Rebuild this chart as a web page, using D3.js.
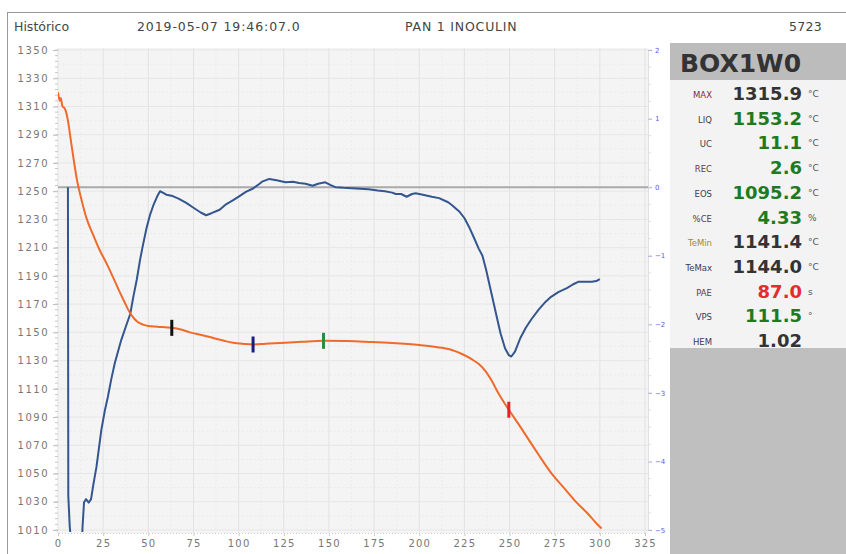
<!DOCTYPE html>
<html>
<head>
<meta charset="utf-8">
<script src="https://cdn.jsdelivr.net/npm/d3@7"></script>
<style>
  body { margin: 0; background: #fff; }
  svg { display: block; font-family: "DejaVu Sans", sans-serif; }
</style>
</head>
<body>
<div id="chart"></div>
<script>
// header line
const headerTexts = ["Histórico", "2019-05-07 19:46:07.0", "PAN 1 INOCULIN", "5723"];

// ticks
const timeTicks = d3.range(0, 326, 25);
const tempTicks = d3.range(1010, 1351, 20);
const rightTicks = [2, 1, 0, -1, -2, -3, -4, -5];

// cooling curve: [time s, temperature °C]
const coolingCurve = [
  [0, 1320], [1, 1314], [1.5, 1316], [2.5, 1310], [3.5, 1309], [4.5, 1306], [5.5, 1300],
  [7, 1287], [8.5, 1274], [10.5, 1258], [13, 1244], [16, 1230], [19.5, 1219], [23, 1208.5],
  [27, 1198.5], [30.5, 1189], [34, 1179], [37, 1171], [40, 1163.5], [42, 1160], [44, 1157.5],
  [47, 1155.5], [50, 1154.5], [55, 1154], [63, 1153.2], [68, 1152], [73, 1150], [80, 1148],
  [86, 1146], [92, 1144], [97, 1142.6], [103, 1141.8], [108, 1141.4], [115, 1142], [123, 1142.5],
  [135, 1143.3], [147, 1144], [160, 1143.8], [172, 1143.2], [185, 1142.4], [200, 1141],
  [210, 1139.5], [218, 1137.5], [224, 1134.5], [229, 1131], [233, 1127.5], [237, 1122],
  [240, 1116], [244, 1106.5], [249.6, 1095.2], [255, 1085], [260.6, 1074], [266, 1063.5],
  [273, 1050.5], [280, 1040], [286, 1031], [293, 1022], [299, 1013.5], [301, 1011]
];

// derivative curve (right axis): [time s, value]
const derivCurve = [
  [5.5, 0], [5.7, -4.5], [6.5, -4.95], [7.8, -5.3], [13, -5.3], [13.6, -4.95], [14.4, -4.6],
  [15.5, -4.55], [17, -4.6], [18.3, -4.55], [19.5, -4.35], [21.3, -4.08], [24, -3.54],
  [26, -3.25], [27.6, -3.06], [29.5, -2.8], [31.5, -2.56], [35, -2.23], [38, -2.0],
  [40, -1.85], [41.7, -1.6], [43.6, -1.35], [45.5, -1.05], [47, -0.85], [49, -0.6],
  [51, -0.4], [53, -0.25], [55, -0.13], [56.5, -0.06], [58, -0.08], [60, -0.11],
  [63.5, -0.13], [67, -0.17], [71, -0.23], [75, -0.3], [79, -0.37], [82, -0.41],
  [85, -0.38], [89.5, -0.33], [93, -0.25], [97, -0.19], [100.5, -0.13], [104, -0.07],
  [108, -0.02], [111.6, 0.05], [113, 0.08], [117, 0.12], [121, 0.1], [126, 0.07],
  [130, 0.08], [133.5, 0.06], [137, 0.05], [141, 0.02], [144, 0.05], [148, 0.07],
  [151, 0.03], [153.6, 0.0], [158, -0.01], [165, -0.02], [172, -0.03], [177, -0.05],
  [181, -0.06], [185, -0.08], [187, -0.1], [190, -0.1], [193, -0.14], [196, -0.1],
  [198, -0.09], [202, -0.11], [207, -0.14], [211, -0.16], [216, -0.22], [218, -0.26],
  [222, -0.35], [225, -0.45], [227.6, -0.58], [230, -0.72], [233, -0.9], [235, -1.0],
  [237, -1.2], [240, -1.55], [243, -1.9], [245, -2.13], [247.5, -2.35], [249.6, -2.45],
  [251, -2.47], [253, -2.4], [256, -2.2], [259, -2.05], [262, -1.93], [266, -1.79],
  [270, -1.67], [273, -1.6], [277, -1.53], [282, -1.47], [285, -1.42], [288, -1.38],
  [292, -1.38], [295.6, -1.38], [298, -1.37], [300, -1.34]
];

// characteristic points on the cooling curve
const markerTimes = [63, 108, 147, 249.6];
const markerTemps = [1153.2, 1141.4, 1144.0, 1095.2];
const markerColors = ["#111", "#1c1c80", "#2e8b3a", "#e8202a"];

// side panel
const panelTitle = "BOX1W0";
const panelLabels = ["MAX", "LIQ", "UC", "REC", "EOS", "%CE", "TeMin", "TeMax", "PAE", "VPS", "HEM"];
const panelValues = ["1315.9", "1153.2", "11.1", "2.6", "1095.2", "4.33", "1141.4", "1144.0", "87.0", "111.5", "1.02"];
const panelUnits = ["°C", "°C", "°C", "°C", "°C", "%", "°C", "°C", "s", "°", ""];
const valueColors = ["#333", "#1f7a1f", "#1f7a1f", "#1f7a1f", "#1f7a1f", "#1f7a1f", "#333", "#333", "#e52b2b", "#1f7a1f", "#333"];
const labelColors = ["#7a2a4a", "#4a3a3a", "#3a3a5a", "#6a3a3a", "#3a3a5a", "#5a3a3a", "#a08a30", "#3a3a5a", "#6a3a3a", "#3a3a5a", "#3a3a5a"];

const W = 846, H = 554;
const svg = d3.select("#chart").append("svg").attr("width", W).attr("height", H);

// frame
svg.append("line").attr("x1", 7).attr("x2", W).attr("y1", 12.5).attr("y2", 12.5)
   .attr("stroke", "#999").attr("stroke-width", 1);
svg.append("line").attr("x1", 7.5).attr("x2", 7.5).attr("y1", 12).attr("y2", H)
   .attr("stroke", "#999").attr("stroke-width", 1);

// header
const headerX = [14, 137, 405, 822];
const headerSpacing = [0, 0.9, 0.8, 0.3];
svg.selectAll(".hdr").data(headerTexts).enter().append("text")
   .attr("class", "hdr")
   .attr("x", (d, i) => headerX[i])
   .attr("y", 31)
   .attr("text-anchor", (d, i) => i === 3 ? "end" : "start")
   .style("font-size", "12.5px")
   .style("letter-spacing", (d, i) => headerSpacing[i] + "px")
   .style("fill", "#444")
   .text(d => d);

// scales
const x = d3.scaleLinear().domain([0, 325]).range([58, 645]);
const y = d3.scaleLinear().domain([1010, 1350]).range([530, 50]);
const y2 = d3.scaleLinear().domain([-5, 2]).range([530, 50]);

// plot background
svg.append("rect").attr("x", 58).attr("y", 48).attr("width", 590).attr("height", 485)
   .attr("fill", "#f4f4f4");

// grid
const grid = svg.append("g");
grid.selectAll(".vminor").data(d3.range(12.5, 325, 25)).enter().append("line")
    .attr("x1", d => x(d)).attr("x2", d => x(d)).attr("y1", 48).attr("y2", 533)
    .attr("stroke", "#ececec").attr("stroke-dasharray", "2,2");
grid.selectAll(".hminor").data(d3.range(1020, 1350, 20)).enter().append("line")
    .attr("x1", 58).attr("x2", 648).attr("y1", d => y(d)).attr("y2", d => y(d))
    .attr("stroke", "#ececec").attr("stroke-dasharray", "2,2");
grid.selectAll(".vmajor").data(timeTicks).enter().append("line")
    .attr("x1", d => x(d)).attr("x2", d => x(d)).attr("y1", 48).attr("y2", 533)
    .attr("stroke", "#e2e2e2");
grid.selectAll(".hmajor").data(tempTicks).enter().append("line")
    .attr("x1", 58).attr("x2", 648).attr("y1", d => y(d)).attr("y2", d => y(d))
    .attr("stroke", "#e6e6e6");

// left axis
const leftAxis = svg.append("g").attr("transform", "translate(58,0)")
   .call(d3.axisLeft(y).tickValues(tempTicks).tickSize(5).tickPadding(4).tickFormat(d3.format("d")));
leftAxis.select(".domain").remove();
leftAxis.selectAll("line").attr("stroke", "#bbb");
leftAxis.selectAll("text").style("font-size", "10px").style("fill", "#777")
   .style("letter-spacing", "1.5px").style("font-family", "DejaVu Sans, sans-serif");
svg.append("g").selectAll("line").data(d3.range(1010, 1351, 4)).enter().append("line")
   .attr("x1", 55).attr("x2", 58).attr("y1", d => y(d)).attr("y2", d => y(d))
   .attr("stroke", "#c8c8c8");

// bottom axis
const bottomAxis = svg.append("g").attr("transform", "translate(0,533)")
   .call(d3.axisBottom(x).tickValues(timeTicks).tickSize(3).tickPadding(4));
bottomAxis.select(".domain").attr("stroke", "#ccc").attr("stroke-dasharray", "1,2");
bottomAxis.selectAll("line").attr("stroke", "#ccc");
bottomAxis.selectAll("text").style("font-size", "10px").style("fill", "#777")
   .style("letter-spacing", "1.2px").style("font-family", "DejaVu Sans, sans-serif");

// right axis
const rightAxis = svg.append("g").attr("transform", "translate(648,0)")
   .call(d3.axisRight(y2).tickValues(rightTicks).tickSize(4).tickPadding(3).tickFormat(d3.format("d")));
rightAxis.select(".domain").attr("stroke", "#e0e0e0");
rightAxis.selectAll("line").attr("stroke", "#9a9ae8");
rightAxis.selectAll("text").style("font-size", "7px").style("fill", "#5a5ae6")
   .style("font-family", "DejaVu Sans, sans-serif");
svg.append("g").selectAll("line").data(d3.range(-5, 2.01, 0.25)).enter().append("line")
   .attr("x1", 648).attr("x2", 651).attr("y1", d => y2(d)).attr("y2", d => y2(d))
   .attr("stroke", "#ddd");

// clip
svg.append("clipPath").attr("id", "plotclip").append("rect")
   .attr("x", 58).attr("y", 48).attr("width", 592).attr("height", 484);

const plot = svg.append("g").attr("clip-path", "url(#plotclip)");

// zero reference line
plot.append("line").attr("x1", 58).attr("x2", 648).attr("y1", y2(0)).attr("y2", y2(0))
    .attr("stroke", "#aaa").attr("stroke-width", 2);

// derivative curve
plot.append("path").datum(derivCurve)
    .attr("fill", "none").attr("stroke", "#34568e").attr("stroke-width", 2)
    .attr("stroke-linejoin", "round")
    .attr("d", d3.line().x(d => x(d[0])).y(d => y2(d[1])));

// cooling curve
plot.append("path").datum(coolingCurve)
    .attr("fill", "none").attr("stroke", "#f06a2c").attr("stroke-width", 2)
    .attr("stroke-linejoin", "round")
    .attr("d", d3.line().curve(d3.curveMonotoneX).x(d => x(d[0])).y(d => y(d[1])));

// markers
plot.selectAll(".mk").data(markerTimes).enter().append("rect")
    .attr("class", "mk")
    .attr("x", d => x(d) - 1.5)
    .attr("y", (d, i) => y(markerTemps[i]) - 8)
    .attr("width", 3).attr("height", 16)
    .attr("fill", (d, i) => markerColors[i]);

// side panel
const px = 670;
svg.append("rect").attr("x", px).attr("y", 43).attr("width", W - px).attr("height", 37).attr("fill", "#bcbcbc");
svg.append("rect").attr("x", px).attr("y", 80).attr("width", W - px).attr("height", 268).attr("fill", "#f3f3f3");
svg.append("rect").attr("x", px).attr("y", 348).attr("width", W - px).attr("height", H - 348).attr("fill", "#bfbfbf");
svg.append("text").attr("x", 680).attr("y", 72)
   .style("font-size", "25px").style("font-weight", "bold").style("fill", "#333")
   .text(panelTitle);

const rowY = i => 100 + i * 24.7;
const rows = svg.append("g");
rows.selectAll(".plab").data(panelLabels).enter().append("text")
    .attr("x", 712).attr("y", (d, i) => rowY(i) - 2)
    .attr("text-anchor", "end")
    .style("font-size", "8.5px")
    .style("fill", (d, i) => labelColors[i])
    .text(d => d);
rows.selectAll(".pval").data(panelValues).enter().append("text")
    .attr("x", 802).attr("y", (d, i) => rowY(i))
    .attr("text-anchor", "end")
    .style("font-size", "18px").style("font-weight", "bold")
    .style("fill", (d, i) => valueColors[i])
    .text(d => d);
rows.selectAll(".punit").data(panelUnits).enter().append("text")
    .attr("x", 808).attr("y", (d, i) => rowY(i) - 3)
    .style("font-size", "9px").style("fill", "#555")
    .text(d => d);
</script>
</body>
</html>
